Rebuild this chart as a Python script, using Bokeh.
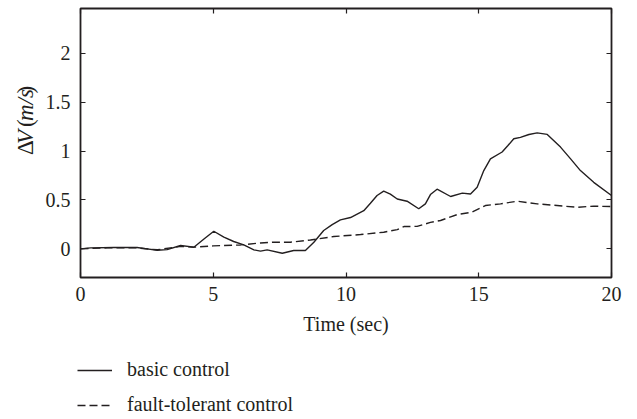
from math import pi

from bokeh.embed import file_html
from bokeh.resources import INLINE
from bokeh.plotting import figure
from bokeh.layouts import column, row
from bokeh.models import (Range1d, FixedTicker, LinearAxis, Label, Legend,
                          LegendItem, CustomLabelingPolicy)

# Velocity deviation over time for the two controllers
time_basic = [0, 0.38, 1.26, 2.13, 2.5, 2.89, 3.26, 3.77, 4.27, 4.65, 5.02,
              5.4, 5.77, 6.15, 6.53, 6.78, 7.03, 7.6, 8.03, 8.47, 8.79, 9.16,
              9.48, 9.79, 10.17, 10.67, 10.92, 11.17, 11.42, 11.67, 11.93,
              12.3, 12.74, 12.99, 13.18, 13.43, 13.94, 14.38, 14.69, 14.94,
              15.19, 15.44, 15.88, 16.1, 16.32, 16.57, 16.89, 17.2, 17.58,
              18.08, 18.46, 18.83, 19.33, 20.0]
dv_basic = [0.0, 0.01, 0.013, 0.013, 0.0, -0.014, -0.008, 0.034, 0.017, 0.10,
            0.18, 0.12, 0.075, 0.04, -0.01, -0.024, -0.01, -0.045, -0.017,
            -0.017, 0.068, 0.187, 0.248, 0.296, 0.32, 0.39, 0.466, 0.545,
            0.59, 0.56, 0.51, 0.487, 0.41, 0.46, 0.555, 0.61, 0.535, 0.57,
            0.56, 0.63, 0.80, 0.92, 0.99, 1.056, 1.125, 1.14, 1.169, 1.186,
            1.17, 1.04, 0.92, 0.80, 0.68, 0.545]

time_ft = [0, 1.0, 2.13, 2.89, 3.77, 4.27, 5.0, 6.03, 6.78, 7.28, 7.9, 8.66,
           9.54, 10.55, 11.42, 11.93, 12.18, 12.68, 13.18, 13.56, 14.19,
           14.75, 15.25, 15.82, 16.45, 17.2, 17.95, 18.7, 19.33, 20.0]
dv_ft = [0.0, 0.01, 0.01, -0.01, 0.025, 0.017, 0.03, 0.04, 0.06, 0.068,
         0.068, 0.09, 0.126, 0.146, 0.17, 0.197, 0.228, 0.23, 0.27, 0.29,
         0.35, 0.375, 0.443, 0.46, 0.487, 0.46, 0.443, 0.425, 0.436, 0.432]

x_ticks = [0, 5, 10, 15, 20]
x_tick_labels = ["0", "5", "10", "15", "20"]
y_ticks = [0, 0.5, 1, 1.5, 2]
y_tick_labels = ["0", "0.5", "1", "1.5", "2"]

series_names = ["basic control", "fault-tolerant control"]

FONT = "Liberation Serif"
INK = "#231f20"
FS = "20px"
DASH = "8 4"
LW = 1.4

# ---- main plot -------------------------------------------------------------
p = figure(width=597, height=345, output_backend="svg", toolbar_location=None,
           x_range=Range1d(0, 20), y_range=Range1d(-0.293, 2.457),
           min_border_left=40, min_border_right=26, min_border_top=8,
           min_border_bottom=68, background_fill_color="white",
           border_fill_color="white")
p.grid.visible = False
p.outline_line_color = INK
p.outline_line_width = 1.8


def style_axis(ax, ticks, labels, show_labels=True):
    ax.ticker = FixedTicker(ticks=ticks)
    ax.major_label_overrides = {t: l for t, l in zip(ticks, labels)}
    ax.axis_line_color = None
    ax.major_tick_in = 5
    ax.major_tick_out = 0
    ax.major_tick_line_color = INK
    ax.major_tick_line_width = 1.2
    ax.minor_tick_line_color = None
    ax.major_label_text_font = FONT
    ax.major_label_text_color = INK
    if show_labels:
        ax.major_label_text_font_size = FS
    else:
        # mirrored tick marks only: keep none of the labels
        ax.major_label_text_font_size = "1px"
        ax.major_label_policy = CustomLabelingPolicy(code="return new Set()")
        ax.major_label_standoff = 0


style_axis(p.xaxis[0], x_ticks, x_tick_labels)
style_axis(p.yaxis[0], y_ticks, y_tick_labels)
p.xaxis[0].major_label_standoff = 9
p.yaxis[0].major_label_standoff = 10
p.xaxis[0].axis_label = "Time (sec)"
p.xaxis[0].axis_label_text_font = FONT
p.xaxis[0].axis_label_text_font_size = FS
p.xaxis[0].axis_label_text_font_style = "normal"
p.xaxis[0].axis_label_text_color = INK
p.xaxis[0].axis_label_standoff = 9

top_axis = LinearAxis()
style_axis(top_axis, x_ticks, x_tick_labels, show_labels=False)
p.add_layout(top_axis, "above")
right_axis = LinearAxis()
style_axis(right_axis, y_ticks, y_tick_labels, show_labels=False)
p.add_layout(right_axis, "right")

p.line(time_basic, dv_basic, line_color=INK, line_width=LW)
p.line(time_ft, dv_ft, line_color=INK, line_width=LW, line_dash=DASH)

# ---- y-axis title strip (upright and italic pieces, rotated) ---------------
ylab = figure(width=40, height=345, output_backend="svg",
              toolbar_location=None, x_range=Range1d(0, 40),
              y_range=Range1d(345, 0), x_axis_type=None, y_axis_type=None,
              min_border=0, outline_line_color=None)
ylab.grid.visible = False
# (text, style, advance to the next piece in px)
ylabel_parts = [("\u0394", "normal", 14.1), ("V", "italic", 21.8),
                ("(", "normal", 7.7), ("m/s", "italic", 35.5),
                (")", "normal", 7.7)]
pos = 188.0
for txt, style, w in ylabel_parts:
    ylab.add_layout(Label(x=25, y=pos, text=txt, angle=pi / 2,
                          text_font=FONT, text_font_size="23px",
                          text_font_style=style, text_color=INK,
                          text_align="left", text_baseline="middle"))
    pos -= w

# ---- legend strip (series kept off-range so only the key shows) ------------
leg = figure(width=637, height=74, output_backend="svg",
             toolbar_location=None, x_range=Range1d(-10, -9),
             y_range=Range1d(0, 1), x_axis_type=None, y_axis_type=None,
             min_border=0, outline_line_color=None)
leg.grid.visible = False
k_basic = leg.line(time_basic, dv_basic, line_color=INK, line_width=LW)
k_ft = leg.line(time_ft, dv_ft, line_color=INK, line_width=LW,
                line_dash=DASH)
legend = Legend(items=[LegendItem(label=series_names[0], renderers=[k_basic]),
                       LegendItem(label=series_names[1], renderers=[k_ft])],
                location=(77, 3), orientation="vertical",
                glyph_width=35, glyph_height=20, label_height=20,
                label_standoff=15, spacing=12, padding=0, margin=0,
                border_line_color=None, background_fill_alpha=0,
                label_text_font=FONT, label_text_font_size=FS,
                label_text_color=INK, label_text_baseline="alphabetic")
leg.add_layout(legend, "center")

layout = column(row(ylab, p, spacing=0), leg, spacing=0)

open("out.html", "w").write(file_html(layout, INLINE))
